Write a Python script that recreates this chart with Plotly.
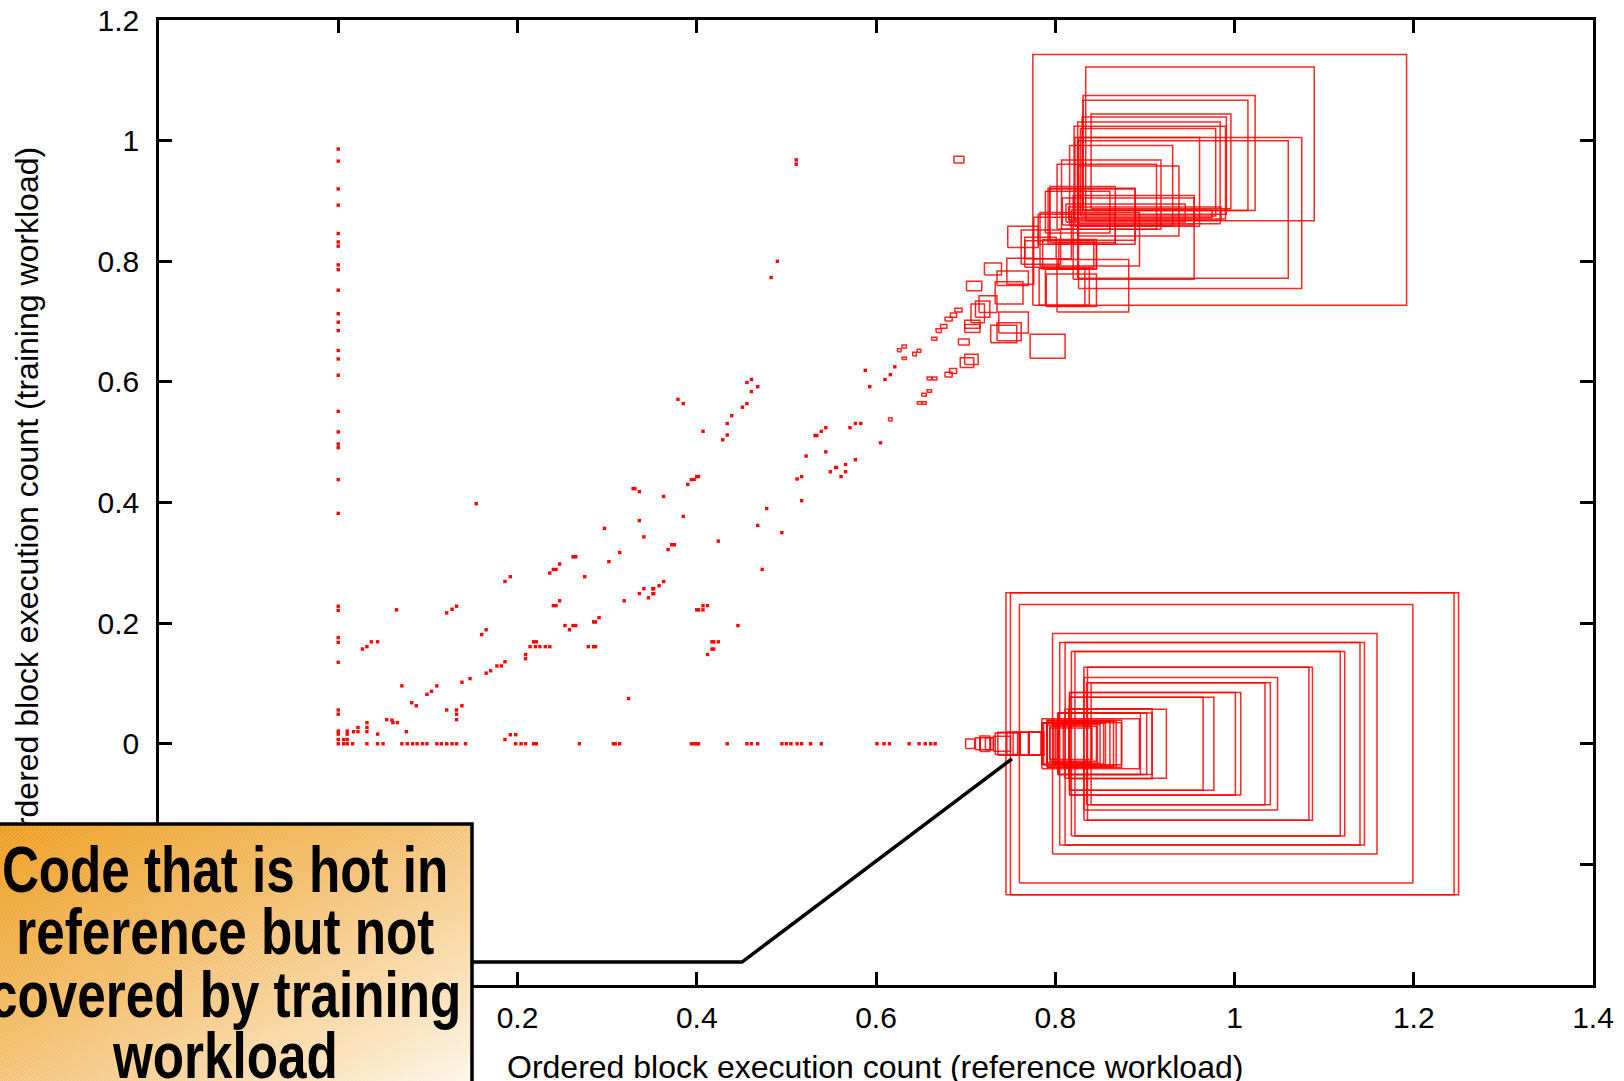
import base64
import plotly.graph_objects as go

# ---------------- data ----------------
# blocks on the x = 0 column (never executed by the reference workload)
left_col_y = [0.986, 0.966, 0.920, 0.893, 0.846, 0.832, 0.825, 0.794, 0.786, 0.752,
              0.713, 0.699, 0.685, 0.652, 0.638, 0.611, 0.551, 0.517, 0.497, 0.491,
              0.438, 0.382, 0.228, 0.221, 0.176, 0.168, 0.135, 0.056, 0.049, 0.021,
              0.016, 0.007, 0.0]

# small (cold) blocks: reference count, training count
dot_x = [0.006, 0.006, 0.010, 0.010, 0.010, 0.010, 0.016, 0.017, 0.022, 0.022,
         0.032, 0.032, 0.032, 0.032, 0.044, 0.044, 0.050, 0.054, 0.060, 0.061,
         0.066, 0.071, 0.076, 0.071, 0.077, 0.083, 0.088, 0.094, 0.099, 0.110,
         0.115, 0.121, 0.127, 0.132, 0.142, 0.065, 0.027, 0.032, 0.037, 0.044,
         0.082, 0.087, 0.099, 0.104, 0.110, 0.121, 0.132, 0.132, 0.132, 0.138,
         0.138, 0.147, 0.121, 0.127, 0.132, 0.154, 0.160, 0.165, 0.165, 0.170,
         0.177,
         0.186, 0.192, 0.186, 0.182, 0.186, 0.192, 0.198, 0.198, 0.204, 0.209,
         0.218, 0.221, 0.209, 0.209, 0.214, 0.220, 0.225, 0.231, 0.236, 0.218,
         0.221, 0.240, 0.243, 0.247, 0.236, 0.240, 0.243, 0.247, 0.253, 0.258,
         0.262, 0.265, 0.262, 0.265, 0.275, 0.279, 0.285, 0.287, 0.285, 0.287,
         0.291, 0.269, 0.297, 0.302, 0.307, 0.309, 0.314, 0.314, 0.319, 0.324,
         0.329, 0.331, 0.336, 0.336, 0.341, 0.336, 0.341, 0.346, 0.351, 0.352,
         0.351, 0.352, 0.358, 0.363, 0.363, 0.368, 0.372, 0.375, 0.379, 0.385,
         0.385, 0.390, 0.394, 0.397, 0.400, 0.402, 0.394, 0.397, 0.400, 0.402,
         0.400, 0.402, 0.407, 0.407, 0.412, 0.407, 0.412, 0.417, 0.419, 0.417,
         0.419, 0.424, 0.424, 0.429, 0.434, 0.434, 0.439, 0.434, 0.446, 0.451,
         0.456, 0.456, 0.461, 0.468, 0.468, 0.473, 0.478, 0.495, 0.495, 0.500,
         0.505, 0.512,
         0.490, 0.483, 0.456, 0.461, 0.468, 0.461, 0.588, 0.593, 0.610, 0.616,
         0.621, 0.571, 0.577, 0.583, 0.544, 0.539, 0.532, 0.534, 0.544, 0.522,
         0.555, 0.556, 0.566, 0.577, 0.549, 0.566, 0.561, 0.512, 0.517, 0.517,
         0.605, 0.511, 0.511,
         0.517, 0.527, 0.539, 0.601, 0.609, 0.615, 0.637, 0.648, 0.655, 0.661,
         0.666]
dot_y = [0.007, 0.000, 0.021, 0.016, 0.007, 0.000, 0.000, 0.020, 0.027, 0.020,
         0.035, 0.027, 0.020, 0.000, 0.016, 0.000, 0.000, 0.040, 0.039, 0.035,
         0.035, 0.096, 0.020, 0.000, 0.000, 0.000, 0.000, 0.000, 0.000, 0.000,
         0.000, 0.000, 0.000, 0.000, 0.000, 0.222, 0.157, 0.161, 0.169, 0.169,
         0.068, 0.063, 0.082, 0.087, 0.096, 0.056, 0.056, 0.049, 0.040, 0.063,
         0.102, 0.108, 0.217, 0.223, 0.228, 0.398, 0.181, 0.189, 0.117, 0.121,
         0.129,
         0.269, 0.277, 0.136, 0.129, 0.007, 0.015, 0.015, 0.000, 0.000, 0.000,
         0.000, 0.000, 0.148, 0.141, 0.161, 0.161, 0.161, 0.161, 0.161, 0.169,
         0.169, 0.229, 0.229, 0.237, 0.283, 0.289, 0.289, 0.298, 0.196, 0.189,
         0.196, 0.196, 0.310, 0.310, 0.277, 0.161, 0.161, 0.161, 0.202, 0.202,
         0.209, 0.000, 0.357, 0.302, 0.000, 0.000, 0.000, 0.317, 0.237, 0.075,
         0.423, 0.423, 0.418, 0.370, 0.343, 0.249, 0.257, 0.242, 0.257, 0.257,
         0.249, 0.249, 0.262, 0.269, 0.410, 0.322, 0.330, 0.330, 0.571, 0.564,
         0.377, 0.430, 0.438, 0.438, 0.443, 0.443, 0.000, 0.000, 0.000, 0.000,
         0.222, 0.222, 0.229, 0.222, 0.229, 0.518, 0.148, 0.157, 0.157, 0.169,
         0.169, 0.169, 0.336, 0.504, 0.512, 0.531, 0.544, 0.000, 0.196, 0.558,
         0.564, 0.000, 0.000, 0.000, 0.362, 0.289, 0.390, 0.350, 0.000, 0.000,
         0.000, 0.000,
         0.800, 0.773, 0.599, 0.604, 0.592, 0.584, 0.619, 0.592, 0.604, 0.612,
         0.625, 0.524, 0.531, 0.531, 0.524, 0.518, 0.511, 0.511, 0.484, 0.477,
         0.458, 0.458, 0.463, 0.471, 0.451, 0.451, 0.443, 0.439, 0.443, 0.403,
         0.499, 0.968, 0.961,
         0.000, 0.000, 0.000, 0.000, 0.000, 0.000, 0.000, 0.000, 0.000, 0.000,
         0.000]

# hot blocks covered by both workloads: box extents (x low/high, y low/high)
hot_x0 = [0.775, 0.834, 0.831, 0.831, 0.840, 0.830, 0.825, 0.821, 0.828, 0.826,
          0.825, 0.822, 0.816, 0.807, 0.802, 0.825, 0.794, 0.794, 0.789, 0.820,
          0.783, 0.776, 0.747, 0.762, 0.766, 0.786, 0.804, 0.802, 0.789, 0.790,
          0.782, 0.772, 0.808, 0.812, 0.815, 0.818, 0.687, 0.701, 0.721, 0.766,
          0.728, 0.735, 0.737, 0.706, 0.711, 0.715, 0.733, 0.735, 0.746, 0.781,
          0.792,
          0.624, 0.629, 0.629, 0.641, 0.646, 0.614, 0.657, 0.663, 0.651, 0.657,
          0.646, 0.652, 0.662, 0.667, 0.672, 0.677, 0.683, 0.688, 0.677, 0.682,
          0.694, 0.699, 0.692, 0.699, 0.699]
hot_x1 = [1.192, 1.089, 1.023, 1.015, 0.996, 0.991, 0.984, 0.990, 0.979, 1.075,
          1.060, 0.961, 0.931, 0.918, 0.913, 0.938, 0.867, 0.889, 0.861, 0.955,
          0.894, 0.818, 0.781, 0.806, 0.801, 0.846, 0.846, 0.882, 0.833, 0.846,
          0.838, 0.811, 0.955, 0.945, 0.985, 0.975, 0.698, 0.718, 0.740, 0.843,
          0.757, 0.762, 0.770, 0.721, 0.727, 0.735, 0.764, 0.770, 0.776, 0.867,
          0.889,
          0.628, 0.634, 0.634, 0.645, 0.650, 0.618, 0.662, 0.668, 0.656, 0.662,
          0.651, 0.656, 0.668, 0.673, 0.679, 0.685, 0.690, 0.696, 0.685, 0.690,
          0.709, 0.714, 0.704, 0.716, 0.716]
hot_y0 = [0.727, 0.867, 0.884, 0.884, 0.887, 0.878, 0.862, 0.870, 0.875, 0.755,
          0.772, 0.858, 0.859, 0.853, 0.853, 0.842, 0.831, 0.835, 0.847, 0.770,
          0.792, 0.804, 0.823, 0.795, 0.804, 0.787, 0.787, 0.716, 0.726, 0.725,
          0.727, 0.639, 0.860, 0.865, 0.868, 0.872, 0.963, 0.751, 0.777, 0.790,
          0.665, 0.668, 0.681, 0.698, 0.707, 0.715, 0.729, 0.760, 0.762, 0.828,
          0.828,
          0.650, 0.656, 0.637, 0.643, 0.649, 0.535, 0.603, 0.603, 0.576, 0.583,
          0.563, 0.563, 0.669, 0.682, 0.689, 0.701, 0.707, 0.716, 0.608, 0.614,
          0.624, 0.629, 0.661, 0.689, 0.682]
hot_y1 = [1.143, 1.122, 1.075, 1.067, 1.044, 1.039, 1.031, 1.024, 1.020, 1.005,
          1.000, 1.005, 0.992, 0.968, 0.961, 0.958, 0.924, 0.920, 0.916, 0.909,
          0.881, 0.873, 0.858, 0.852, 0.840, 0.836, 0.831, 0.803, 0.787, 0.779,
          0.788, 0.679, 0.905, 0.895, 0.890, 0.885, 0.974, 0.767, 0.797, 0.834,
          0.694, 0.698, 0.716, 0.729, 0.734, 0.743, 0.766, 0.784, 0.805, 0.878,
          0.921,
          0.655, 0.661, 0.641, 0.649, 0.654, 0.540, 0.608, 0.608, 0.581, 0.587,
          0.567, 0.567, 0.674, 0.688, 0.695, 0.707, 0.714, 0.722, 0.616, 0.622,
          0.640, 0.646, 0.671, 0.702, 0.695]

# hot in reference, not covered by training (training count = 0): x extents, half height
miss_x0 = [0.700, 0.711, 0.716, 0.722, 0.731, 0.736, 0.746, 0.761, 0.770, 0.787,
           0.716, 0.733, 0.753, 0.760, 0.771, 0.794, 0.794, 0.798, 0.809, 0.802,
           0.785, 0.791, 0.785, 0.791, 0.791, 0.785, 0.785, 0.791, 0.804, 0.803,
           0.803, 0.811, 0.815, 0.816, 0.816, 0.816, 0.816, 0.832, 0.835, 0.840,
           0.832, 0.836, 0.818, 0.822, 0.805, 0.811, 0.797, 0.760, 0.745, 0.750]
miss_x1 = [0.710, 0.716, 0.728, 0.731, 0.750, 0.758, 0.761, 0.787, 0.787, 0.800,
           0.727, 0.760, 0.771, 0.784, 0.785, 0.846, 0.841, 0.850, 0.861, 0.856,
           0.874, 0.865, 0.894, 0.874, 0.868, 0.854, 0.847, 0.840, 0.895, 0.908,
           0.902, 0.924, 0.908, 0.977, 0.965, 1.007, 1.001, 1.048, 1.040, 1.034,
           1.087, 1.083, 1.123, 1.118, 1.145, 1.140, 1.159, 1.199, 1.250, 1.245]
miss_dy = [0.008, 0.010, 0.010, 0.010, 0.0125, 0.019, 0.019, 0.019, 0.019, 0.035,
           0.0127, 0.018, 0.019, 0.019, 0.019, 0.029, 0.026, 0.032, 0.037, 0.0345,
           0.035, 0.039, 0.0415, 0.039, 0.037, 0.034, 0.034, 0.031, 0.051, 0.051,
           0.051, 0.057, 0.058, 0.077, 0.077, 0.085, 0.085, 0.110, 0.101, 0.101,
           0.127, 0.127, 0.153, 0.153, 0.168, 0.168, 0.183, 0.231, 0.2505, 0.2505]

x_ticks = [-0.2, 0, 0.2, 0.4, 0.6, 0.8, 1, 1.2, 1.4]
x_tick_labels = ["-0.2", "0", "0.2", "0.4", "0.6", "0.8", "1", "1.2", "1.4"]
y_ticks = [-0.4, -0.2, 0, 0.2, 0.4, 0.6, 0.8, 1, 1.2]
y_tick_labels = ["-0.4", "-0.2", "0", "0.2", "0.4", "0.6", "0.8", "1", "1.2"]

x_title = "Ordered block execution count (reference workload)"
y_title = "Ordered block execution count (training workload)"
callout_lines = ["Code that is hot in", "reference but not", "covered by training", "workload"]
callout_path_x = [0.149, 0.4505, 0.7517]
callout_path_y = [-0.362, -0.362, -0.025]

# ---------------- layout geometry ----------------
W, H = 1624, 1081
ML, MR, MT, MB = 159, 31, 20, 96
PW, PH = W - ML - MR, H - MT - MB


def pxx(px):
    return (px - ML) / PW


def pxy(py):
    return (H - MB - py) / PH


# ---------------- traces ----------------
rx, ry = [], []
for a, b, c, d in zip(hot_x0, hot_x1, hot_y0, hot_y1):
    rx += [a, b, b, a, a, None]
    ry += [c, c, d, d, c, None]
for a, b, h in zip(miss_x0, miss_x1, miss_dy):
    rx += [a, b, b, a, a, None]
    ry += [-h, -h, h, h, -h, None]

red = "rgba(255,0,0,0.85)"
fig = go.Figure()
fig.add_trace(go.Scatter(x=rx, y=ry, mode="lines", line=dict(color=red, width=1.5),
                         hoverinfo="skip", showlegend=False))
fig.add_trace(go.Scatter(x=[0.0] * len(left_col_y) + dot_x, y=left_col_y + dot_y,
                         mode="markers",
                         marker=dict(symbol="square", size=3.4, color="#ff0000",
                                     line=dict(width=0)),
                         hoverinfo="skip", showlegend=False))

axis_common = dict(showline=True, linecolor="black", linewidth=2.5, mirror="ticks",
                   ticks="inside", ticklen=13, tickwidth=2.5, tickcolor="black",
                   showgrid=False, zeroline=False, automargin=False,
                   tickfont=dict(family="Liberation Sans, Arial, sans-serif", size=30,
                                 color="black"))

fig.update_layout(
    template="none",
    width=W, height=H, autosize=False,
    margin=dict(l=ML, r=MR, t=MT, b=MB, pad=0),
    paper_bgcolor="white", plot_bgcolor="white",
    xaxis=dict(range=[-0.2, 1.4], tickvals=x_ticks, ticktext=x_tick_labels,
               ticklabelstandoff=4, **axis_common),
    yaxis=dict(range=[-0.4, 1.2], tickvals=y_ticks, ticktext=y_tick_labels,
               ticklabelstandoff=11, **axis_common),
)

# gradient call-out box
svg = ("<svg xmlns='http://www.w3.org/2000/svg' width='480' height='270' "
       "viewBox='0 0 480 270' preserveAspectRatio='none'><defs>"
       "<linearGradient id='g' x1='0' y1='0' x2='1' y2='1'>"
       "<stop offset='0' stop-color='#EE9D1E'/><stop offset='0.45' stop-color='#F4C070'/>"
       "<stop offset='0.8' stop-color='#FAE2BC'/><stop offset='1' stop-color='#FFF8EE'/>"
       "</linearGradient>"
       "<pattern id='p' width='4' height='4' patternUnits='userSpaceOnUse'>"
       "<path d='M0,4 L4,0' stroke='white' stroke-opacity='0.18' stroke-width='1'/></pattern>"
       "</defs><rect width='480' height='270' fill='url(#g)'/>"
       "<rect width='480' height='270' fill='url(#p)'/></svg>")
src = "data:image/svg+xml;base64," + base64.b64encode(svg.encode()).decode()
box_l, box_r, box_t, box_b = -6, 472, 824, 1092
fig.add_layout_image(source=src, xref="paper", yref="paper", x=pxx(box_l), y=pxy(box_t),
                     sizex=(box_r - box_l) / PW, sizey=(box_b - box_t) / PH,
                     xanchor="left", yanchor="top", sizing="stretch", layer="above")
fig.add_shape(type="rect", xref="paper", yref="paper", x0=pxx(box_l), x1=pxx(box_r),
              y0=pxy(box_b), y1=pxy(box_t), line=dict(color="black", width=3.5),
              layer="above")
path = "M {},{} L {},{} L {},{}".format(callout_path_x[0], callout_path_y[0],
                                        callout_path_x[1], callout_path_y[1],
                                        callout_path_x[2], callout_path_y[2])
fig.add_shape(type="path", xref="x", yref="y", path=path,
              line=dict(color="black", width=3.5), layer="above")

title_font = dict(family="Liberation Sans, Arial, sans-serif", size=32, color="black")
fig.add_annotation(text=x_title, xref="paper", yref="paper", x=pxx(875), y=pxy(1067),
                   xanchor="center", yanchor="middle", showarrow=False, font=title_font)
fig.add_annotation(text=y_title, xref="paper", yref="paper", x=pxx(27), y=pxy(500),
                   xanchor="center", yanchor="middle", textangle=-90, showarrow=False,
                   font=title_font)

box_font = dict(family="Liberation Sans, Arial, sans-serif",
                size=64, color="black", weight="bold")
for line, cy in zip(callout_lines, [870, 932, 995, 1056]):
    fig.add_annotation(text=line, xref="paper", yref="paper", x=pxx(225), y=pxy(cy),
                       xanchor="center", yanchor="middle", showarrow=False, font=box_font)

post = """
document.body.style.margin = '0';
var gd = document.getElementById('{plot_id}');
for (var i = 2; i < 6; i++) {
  var t = gd.querySelector('.infolayer g.annotation[data-index="' + i + '"] text');
  if (t) {
    var b = t.getBBox();
    var cx = b.x + b.width / 2;
    t.setAttribute('transform', 'translate(' + cx + ',0) scale(0.80,1) translate(' + (-cx) + ',0)');
  }
}
var a = gd.querySelector('.infolayer g.annotation[data-index="1"]');
var la = gd.querySelector('.layer-above');
if (a && la) { la.parentNode.insertBefore(a, la); }
"""
fig.write_html("out.html", config={"displayModeBar": False}, post_script=post)
